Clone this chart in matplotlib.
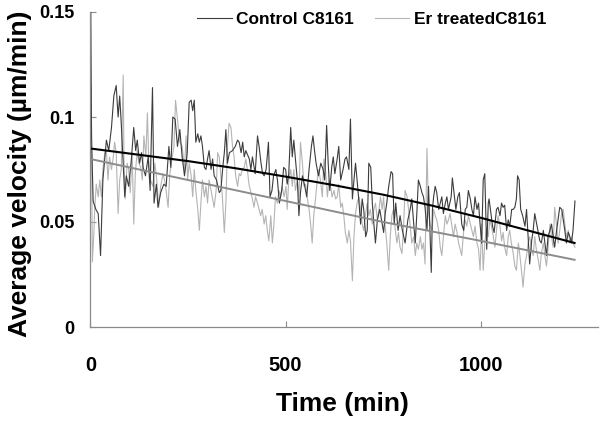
import matplotlib
matplotlib.use("Agg")
import matplotlib.pyplot as plt

plt.rcParams['font.family'] = ['Liberation Sans', 'DejaVu Sans']

# Control C8161 - time (min) and average velocity (um/min)
ctrl_time = [0, 1, 3, 7, 14, 20, 26, 32, 41, 47,
             54, 60, 66, 71, 75, 79, 84, 88, 92, 98,
             105, 111, 116, 120, 126, 131, 135, 141, 148, 153,
             159, 163, 169, 173, 180, 188, 194, 201, 206, 211,
             217, 223, 229, 235, 241, 248, 253, 258, 262, 266,
             270, 275, 279, 283, 287, 292, 296, 300, 304, 309,
             313, 317, 323, 330, 334, 339, 343, 347, 351, 356,
             364, 371, 377, 381, 386, 390, 394, 398, 407, 411,
             415, 422, 428, 432, 437, 441, 445, 450, 456, 460,
             465, 469, 475, 479, 484, 490, 495, 500, 504, 508,
             513, 517, 521, 526, 530, 534, 538, 543, 549, 554,
             560, 566, 570, 574, 578, 584, 590, 596, 600, 605,
             609, 613, 618, 622, 626, 632, 636, 641, 647, 652,
             656, 662, 666, 671, 675, 679, 683, 688, 692, 696,
             700, 705, 709, 713, 718, 722, 726, 730, 735, 741,
             751, 755, 759, 764, 770, 774, 778, 782, 788, 793,
             799, 806, 813, 819, 823, 828, 832, 836, 840, 845,
             849, 853, 857, 862, 866, 870, 873, 876, 879, 883,
             887, 892, 896, 900, 904, 909, 913, 917, 924, 927,
             933, 936, 941, 945, 951, 956, 960, 964, 968, 973,
             977, 981, 985, 990, 994, 998, 1002, 1006, 1010, 1015,
             1019, 1021, 1026, 1030, 1034, 1040, 1044, 1049, 1053, 1057,
             1061, 1066, 1070, 1074, 1079, 1083, 1087, 1091, 1094, 1098,
             1102, 1107, 1113, 1117, 1121, 1125, 1130, 1134, 1138, 1143,
             1147, 1151, 1155, 1160, 1164, 1168, 1172, 1177, 1181, 1185,
             1189, 1194, 1202, 1207, 1211, 1215, 1219, 1224, 1228, 1232,
             1236, 1241]
ctrl_vel = [.085, .150, .090, .060, .056, .054, .034, .070, .089, .084,
            .095, .110, .115, .100, .110, .097, .078, .062, .072, .067,
            .080, .095, .084, .089, .078, .083, .076, .072, .081, .065,
            .114, .059, .068, .057, .064, .068, .067, .086, .076, .100,
            .099, .086, .094, .081, .072, .083, .107, .108, .103, .108,
            .088, .092, .088, .091, .086, .076, .075, .080, .084, .075,
            .080, .072, .070, .064, .065, .076, .083, .094, .078, .083,
            .084, .086, .089, .088, .083, .088, .081, .084, .080, .075,
            .081, .073, .091, .086, .078, .073, .072, .075, .088, .062,
            .065, .072, .075, .070, .059, .065, .076, .075, .068, .073,
            .095, .081, .089, .078, .070, .053, .064, .072, .067, .062,
            .075, .086, .091, .084, .078, .072, .078, .075, .070, .096,
            .078, .065, .076, .081, .073, .080, .086, .070, .075, .080,
            .081, .075, .099, .061, .070, .078, .070, .059, .049, .061,
            .056, .043, .046, .078, .076, .059, .049, .040, .051, .056,
            .045, .054, .059, .067, .074, .073, .049, .059, .046, .053,
            .046, .040, .051, .056, .061, .049, .040, .054, .070, .067,
            .064, .062, .057, .046, .067, .043, .026, .056, .062, .067,
            .064, .056, .059, .062, .054, .059, .062, .056, .062, .071,
            .061, .056, .062, .064, .049, .046, .056, .057, .065, .061,
            .056, .053, .062, .056, .059, .049, .040, .070, .073, .037,
            .059, .061, .054, .048, .045, .056, .057, .053, .059, .057,
            .058, .046, .051, .048, .056, .056, .057, .061, .072, .070,
            .056, .053, .048, .056, .043, .030, .041, .046, .054, .049,
            .045, .041, .040, .046, .040, .034, .043, .046, .049, .043,
            .038, .046, .057, .056, .051, .046, .040, .045, .043, .040,
            .046, .060]

# Er treated C8161
er_time = [0, 2, 5, 9, 11, 15, 20, 24, 28, 32,
           37, 41, 45, 49, 54, 58, 62, 66, 71, 75,
           79, 84, 86, 89, 94, 98, 102, 107, 111, 115,
           120, 124, 129, 133, 137, 142, 146, 150, 154, 160,
           165, 169, 175, 180, 186, 192, 199, 203, 207, 214,
           218, 223, 229, 235, 241,
           245, 249, 253, 258, 262, 266, 270, 275, 279, 283,
           287, 292, 296, 300, 304, 309, 313, 317, 322, 326,
           330, 334, 338, 343, 347, 351, 355, 360, 364, 368,
           372, 377, 381, 385, 389, 394, 398, 402, 406, 411,
           415, 419, 423, 428, 432, 436, 440, 445, 449, 453,
           457, 462, 466, 470, 474, 479, 483, 487, 491, 496,
           501,
           504, 508, 513, 517, 521, 525, 530, 534, 538, 543,
           547, 551, 555, 560, 564, 568, 572, 577, 581, 585,
           589, 594, 598, 602, 607, 611, 615, 619, 624, 628,
           632, 636, 641, 645, 649, 653, 658, 662, 666, 671,
           675, 679, 683, 688, 692, 696, 700, 705, 709, 713,
           717, 722, 726, 730, 735, 739, 743,
           747, 751, 755, 759, 764, 768, 772, 776, 781, 785,
           789, 793, 798, 802, 806, 811, 815, 819, 823, 828,
           832, 836, 840, 845, 849, 853, 857, 862, 866, 870,
           875, 879, 883, 887, 892, 896, 900, 904, 909, 913,
           917, 921, 926, 930, 934, 939, 943, 947, 951, 956,
           960, 964, 968, 973, 977, 981, 985, 990, 994, 998,
           1002, 1006, 1010, 1014, 1019, 1023, 1027, 1032, 1036, 1040,
           1044, 1049, 1053, 1057, 1061, 1066, 1070, 1074, 1078, 1083,
           1087, 1091, 1096, 1100, 1104, 1108, 1113, 1117, 1121, 1125,
           1130, 1134, 1138, 1142, 1147, 1151, 1155, 1160, 1164, 1168,
           1172, 1177, 1181, 1185, 1189, 1194, 1198, 1202, 1206, 1211,
           1215, 1219, 1224, 1228, 1232, 1236, 1241]
er_vel = [.080, .115, .031, .045, .056, .068, .062, .070, .062, .075,
          .083, .084, .070, .081, .075, .080, .088, .083, .054, .070,
          .075, .120, .080, .061, .078, .075, .064, .083, .049, .073,
          .084, .078, .076, .070, .091, .081, .102, .075, .070, .067,
          .078, .072, .057, .067, .073, .068, .057, .072, .078, .086,
          .108, .099, .088, .086, .075,
          .091, .070, .078, .072, .062, .075, .065, .056, .046, .059,
          .070, .062, .067, .059, .070, .065, .061, .057, .065, .083,
          .081, .072, .062, .045, .059, .086, .097, .095, .086, .081,
          .072, .067, .073, .072, .075, .076, .080, .075, .068, .064,
          .061, .057, .062, .059, .056, .053, .056, .049, .053, .046,
          .041, .053, .040, .049, .062, .059, .065, .062, .067, .062,
          .067,
          .056, .070, .075, .067, .075, .065, .070, .062, .088, .078,
          .067, .068, .062, .056, .049, .040, .053, .062, .070, .075,
          .070, .062, .080, .075, .062, .070, .067, .062, .065, .061,
          .062, .068, .057, .059, .053, .045, .040, .046, .041, .022,
          .043, .054, .059, .062, .056, .049, .046, .054, .059, .053,
          .056, .049, .056, .059, .051, .056, .062,
          .056, .062, .048, .040, .027, .043, .053, .056, .046, .040,
          .045, .038, .035, .048, .065, .062, .056, .048, .040, .043,
          .034, .040, .037, .043, .037, .040, .030, .085, .054, .049,
          .046, .056, .053, .051, .046, .038, .034, .043, .053, .049,
          .051, .054, .048, .043, .049, .045, .040, .037, .034, .046,
          .051, .048, .053, .049, .046, .043, .048, .040, .037, .027,
          .049, .027, .040, .046, .043, .051, .048, .043, .038, .046,
          .053, .048, .041, .045, .038, .034, .043, .046, .040, .035,
          .029, .027, .040, .034, .027, .019, .030, .034, .040, .043,
          .037, .034, .043, .037, .032, .027, .035, .040, .034, .029,
          .037, .049, .043, .038, .057, .048, .040, .046, .053, .056,
          .049, .043, .046, .040, .043, .040, .038]

# trend lines
trend_time = [0, 125, 250, 375, 500, 625, 750, 875, 1000, 1120, 1240]
ctrl_trend = [0.085, 0.082, 0.079, 0.0755, 0.0716, 0.0675, 0.063, 0.0578, 0.052, 0.046, 0.040]
er_trend = [0.080, 0.075, 0.070, 0.065, 0.060, 0.055, 0.050, 0.0455, 0.041, 0.0365, 0.032]

x_ticks = [0, 500, 1000]
y_ticks = [0, 0.05, 0.1, 0.15]
y_tick_labels = ["0", "0.05", "0.1", "0.15"]

fig = plt.figure(figsize=(6.16, 4.24), dpi=100)
ax = fig.add_axes([90.4 / 616, 1 - 327 / 424, (598 - 90.4) / 616, (327 - 12) / 424])

ax.plot(er_time, er_vel, color="#b4b4b4", lw=0.8, label="Er treatedC8161")
ax.plot(ctrl_time, ctrl_vel, color="#3c3c3c", lw=0.8, label="Control C8161")
ax.plot(trend_time, er_trend, color="#8c8c8c", lw=1.4)
ax.plot(trend_time, ctrl_trend, color="#000000", lw=1.5)

ax.set_xlim(0, 1300)
ax.set_ylim(0, 0.15)
ax.set_xticks(x_ticks)
ax.set_yticks(y_ticks)
ax.set_yticklabels(y_tick_labels)
for s in ["top", "right"]:
    ax.spines[s].set_visible(False)
for s in ["left", "bottom"]:
    ax.spines[s].set_color("#8a8a8a")
    ax.spines[s].set_linewidth(0.9)
ax.tick_params(direction="in", length=4, width=0.8, color="#8a8a8a")
ax.tick_params(axis="x", pad=21, labelsize=14.5)
ax.tick_params(axis="y", pad=11.5, labelsize=13)
for lab in ax.get_xticklabels() + ax.get_yticklabels():
    lab.set_fontweight("bold")

fig.text(20 / 616, 1 - 173.5 / 424, "Average velocity (\u00b5m/min)", rotation=90,
         ha="center", va="center", fontsize=19, fontweight="bold")
fig.text(342.5 / 616, 1 - 404 / 424, "Time (min)", ha="center", va="center",
         fontsize=19, fontweight="bold")

handles, labels = ax.get_legend_handles_labels()
fig.legend(handles[::-1], labels[::-1], loc="center left", bbox_to_anchor=(197 / 616, 1 - 19 / 424),
           ncol=2, frameon=False, borderpad=0, borderaxespad=0, handlelength=2.0,
           handletextpad=0.25, columnspacing=1.2, prop={"weight": "bold", "size": 12.5})

fig.savefig("out.png", dpi=100)
